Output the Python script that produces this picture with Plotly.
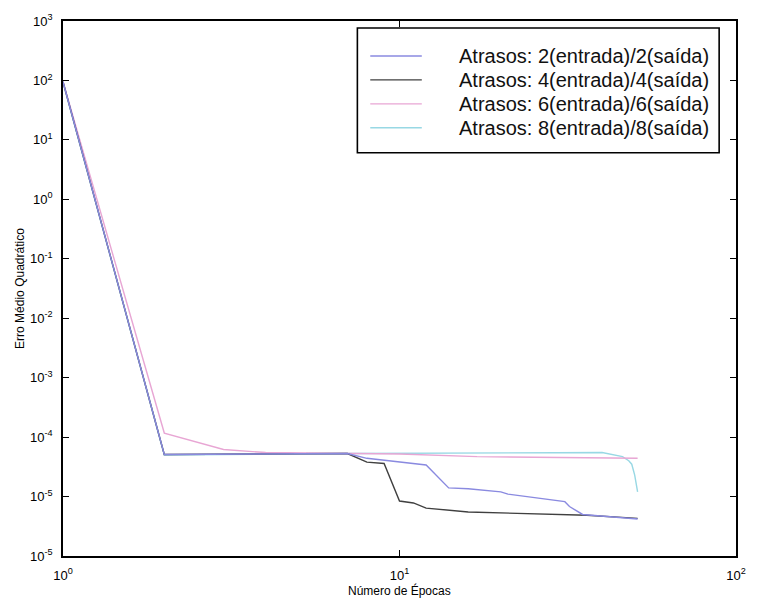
import plotly.graph_objects as go

# Erro médio quadrático ao longo das épocas de treino, por configuração de atrasos
epocas_2 = [1, 2, 7, 8, 12, 14, 16, 20, 21, 31, 32, 35, 51]
erro_2 = [95, 5.1e-5, 5.3e-5, 4.4e-5, 3.4e-5, 1.4e-5, 1.35e-5, 1.2e-5, 1.1e-5,
          8.2e-6, 6.8e-6, 5.0e-6, 4.2e-6]

epocas_4 = [1, 2, 7, 8, 9, 10, 11, 12, 16, 24, 36, 51]
erro_4 = [95, 5.1e-5, 5.3e-5, 3.8e-5, 3.6e-5, 8.4e-6, 7.8e-6, 6.4e-6, 5.5e-6,
          5.2e-6, 4.85e-6, 4.3e-6]

epocas_6 = [1, 2, 3, 4, 10, 17, 51]
erro_6 = [95, 1.17e-4, 6.2e-5, 5.5e-5, 5.2e-5, 4.7e-5, 4.4e-5]

epocas_8 = [1, 2, 7, 20, 40, 46, 48, 49, 50, 51]
erro_8 = [92, 5.0e-5, 5.3e-5, 5.5e-5, 5.5e-5, 4.7e-5, 4.0e-5, 3.5e-5, 2.3e-5, 1.2e-5]

rotulos = [
    "Atrasos: 2(entrada)/2(saída)",
    "Atrasos: 4(entrada)/4(saída)",
    "Atrasos: 6(entrada)/6(saída)",
    "Atrasos: 8(entrada)/8(saída)",
]
cores = ["#8a8ae0", "#404040", "#e8a6d4", "#98d8e4"]

y_ticks = [1e3, 1e2, 1e1, 1e0, 1e-1, 1e-2, 1e-3, 1e-4, 1e-5, 1e-6]
y_ticktext = ["10<sup>3</sup>", "10<sup>2</sup>", "10<sup>1</sup>", "10<sup>0</sup>",
              "10<sup>-1</sup>", "10<sup>-2</sup>", "10<sup>-3</sup>", "10<sup>-4</sup>",
              "10<sup>-5</sup>", "10<sup>-5</sup>"]
x_ticks = [1, 10, 100]
x_ticktext = ["10<sup>0</sup>", "10<sup>1</sup>", "10<sup>2</sup>"]

series = [(epocas_2, erro_2), (epocas_4, erro_4), (epocas_6, erro_6), (epocas_8, erro_8)]

fig = go.Figure()
# desenha primeiro as curvas de fundo e por último a de 2 atrasos
for i in [3, 2, 1, 0]:
    x, y = series[i]
    fig.add_trace(go.Scatter(x=x, y=y, mode="lines", name=rotulos[i],
                             line=dict(color=cores[i], width=1.4),
                             showlegend=False))

W, H = 758, 601
L, R, T, B = 63, 16, 20, 45
pw, ph = W - L - R, H - T - B

def px(xp):
    return (xp - L) / pw

def py(yp):
    return (H - B - yp) / ph

axis_font = dict(family="Liberation Sans, Arial, sans-serif", size=13, color="black")

fig.update_layout(
    width=W, height=H,
    margin=dict(l=L, r=R, t=T, b=B),
    paper_bgcolor="white", plot_bgcolor="white",
    font=dict(family="Liberation Sans, Arial, sans-serif", color="black"),
    xaxis=dict(type="log", range=[0, 2], tickvals=x_ticks, ticktext=x_ticktext,
               ticks="inside", ticklen=6, tickwidth=1.2, tickcolor="black",
               showline=True, linecolor="black", linewidth=1.8, mirror="ticks",
               showgrid=False, zeroline=False, tickfont=axis_font,
               ticklabelstandoff=6),
    yaxis=dict(type="log", range=[-6, 3], tickvals=y_ticks, ticktext=y_ticktext,
               ticks="inside", ticklen=6, tickwidth=1.2, tickcolor="black",
               showline=True, linecolor="black", linewidth=1.8, mirror="ticks",
               showgrid=False, zeroline=False, tickfont=axis_font,
               ticklabelstandoff=6),
)

# títulos dos eixos
fig.add_annotation(text="Número de Épocas", xref="paper", yref="paper",
                   x=0.5, y=py(591), xanchor="center", yanchor="middle",
                   showarrow=False, font=dict(size=12))
fig.add_annotation(text="Erro Médio Quadrático", xref="paper", yref="paper",
                   x=px(19), y=0.5, xanchor="center", yanchor="middle",
                   textangle=-90, showarrow=False, font=dict(size=12))

# legenda
fig.add_shape(type="rect", xref="paper", yref="paper",
              x0=px(360), x1=px(725), y0=py(152), y1=py(27),
              line=dict(color="black", width=1.6), fillcolor="white", layer="above")
linhas_y = [55, 79, 103, 127]
for i, yy in enumerate(linhas_y):
    fig.add_shape(type="line", xref="paper", yref="paper",
                  x0=px(373), x1=px(425), y0=py(yy), y1=py(yy),
                  line=dict(color=cores[i], width=1.4), layer="above")
    fig.add_annotation(text=rotulos[i], xref="paper", yref="paper",
                       x=px(461), y=py(yy), xanchor="left", yanchor="middle",
                       showarrow=False, font=dict(size=20, color="#111111"))

fig.write_html("out.html")
